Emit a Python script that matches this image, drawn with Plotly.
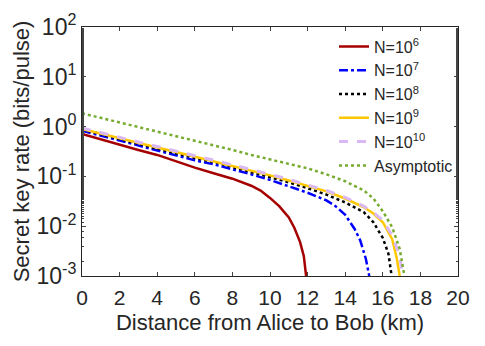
import plotly.graph_objects as go

# distance (km) and key rate (bits/pulse)
x_n6 = [0, 1, 2, 3, 4, 5, 6, 7, 8, 9, 9.5, 10, 10.5, 11, 11.3, 11.6, 11.8, 11.92]
y_n6 = [0.71, 0.55, 0.43, 0.34, 0.27, 0.2, 0.15, 0.116, 0.09, 0.065, 0.052, 0.037, 0.025, 0.015, 0.0092, 0.0048, 0.0025, 0.001]

x_n7 = [0, 1, 2, 3, 4, 5, 6, 7, 8, 9, 10, 11, 12, 13, 13.5, 14, 14.5, 14.8, 15.1, 15.28]
y_n7 = [0.83, 0.66, 0.52, 0.41, 0.33, 0.26, 0.21, 0.175, 0.14, 0.11, 0.085, 0.064, 0.047, 0.033, 0.025, 0.017, 0.0088, 0.0052, 0.0022, 0.001]

x_n8 = [0, 1, 2, 3, 4, 5, 6, 7, 8, 9, 10, 11, 12, 13, 14, 15, 15.5, 16, 16.3, 16.47]
y_n8 = [0.88, 0.7, 0.56, 0.45, 0.36, 0.29, 0.235, 0.195, 0.155, 0.123, 0.097, 0.076, 0.058, 0.043, 0.03, 0.019, 0.012, 0.0058, 0.0028, 0.001]

x_n9 = [0, 1, 2, 3, 4, 5, 6, 7, 8, 9, 10, 11, 12, 13, 14, 15, 15.5, 16, 16.5, 16.75, 16.9]
y_n9 = [0.9, 0.72, 0.58, 0.47, 0.38, 0.31, 0.25, 0.205, 0.165, 0.132, 0.105, 0.083, 0.065, 0.05, 0.036, 0.024, 0.018, 0.012, 0.0055, 0.0022, 0.001]

x_n10 = [0, 1, 2, 3, 4, 5, 6, 7, 8, 9, 10, 11, 12, 13, 14, 15, 15.5, 16, 16.5, 16.9, 17.05]
y_n10 = [0.94, 0.75, 0.6, 0.49, 0.4, 0.32, 0.26, 0.213, 0.172, 0.138, 0.11, 0.087, 0.068, 0.052, 0.038, 0.025, 0.019, 0.013, 0.0065, 0.0025, 0.001]

x_asym = [0, 1, 2, 3, 4, 5, 6, 7, 8, 9, 10, 11, 12, 13, 14, 15, 15.5, 16, 16.5, 16.9, 17.15]
y_asym = [1.85, 1.5, 1.22, 0.99, 0.8, 0.65, 0.53, 0.42, 0.34, 0.27, 0.22, 0.18, 0.145, 0.11, 0.08, 0.052, 0.036, 0.02, 0.0095, 0.0035, 0.001]

series = [
    ("N=10<sup>6</sup>", x_n6, y_n6, "#a50000", "solid", 2.5),
    ("N=10<sup>7</sup>", x_n7, y_n7, "#0000ff", "dashdot", 2.5),
    ("N=10<sup>8</sup>", x_n8, y_n8, "#000000", "dot", 2.5),
    ("N=10<sup>9</sup>", x_n9, y_n9, "#ffc800", "solid", 2.5),
    ("N=10<sup>10</sup>", x_n10, y_n10, "#d9b8f5", "dash", 3),
    ("Asymptotic", x_asym, y_asym, "#77ac30", "dot", 2.5),
]

fig = go.Figure()
for name, xs, ys, col, dash, w in series:
    fig.add_scatter(x=xs, y=ys, mode="lines", name=name,
                    line=dict(color=col, dash=dash, width=w))

# page body has an 8px margin, so the figure is a bit smaller than the window
fig.update_layout(
    width=469, height=330,
    margin=dict(l=74, r=19, t=19, b=62),
    paper_bgcolor="white", plot_bgcolor="white",
    font=dict(family="Liberation Sans, Arial", color="#262626"),
    legend=dict(x=1.0, y=0.99, xanchor="right", yanchor="top",
                bgcolor="rgba(0,0,0,0)", font=dict(size=16, color="#262626"),
                itemwidth=30, tracegroupgap=0),
)
fig.update_xaxes(
    range=[0, 20], tickvals=list(range(0, 21, 2)), automargin=False,
    ticks="inside", ticklen=4, showline=True, linecolor="#262626", linewidth=1,
    mirror="ticks", showgrid=False, zeroline=False,
    tickfont=dict(size=21), ticklabelstandoff=3,
    title=dict(text="Distance from Alice to Bob (km)", font=dict(size=22), standoff=6),
)
fig.update_yaxes(
    type="log", range=[-3, 2], automargin=False,
    tickvals=[1e-3, 1e-2, 1e-1, 1, 10, 100],
    ticktext=["10<sup>-3</sup>", "10<sup>-2</sup>", "10<sup>-1</sup>", "10<sup>0</sup>", "10<sup>1</sup>", "10<sup>2</sup>"],
    ticks="inside", ticklen=4, showline=True, linecolor="#262626", linewidth=1,
    mirror="ticks", showgrid=False, zeroline=False,
    minor=dict(ticks="inside", ticklen=2, showgrid=False),
    tickfont=dict(size=23),
    title=dict(text="Secret key rate (bits/pulse)", font=dict(size=22), standoff=0),
)

fig.write_html("out.html")
